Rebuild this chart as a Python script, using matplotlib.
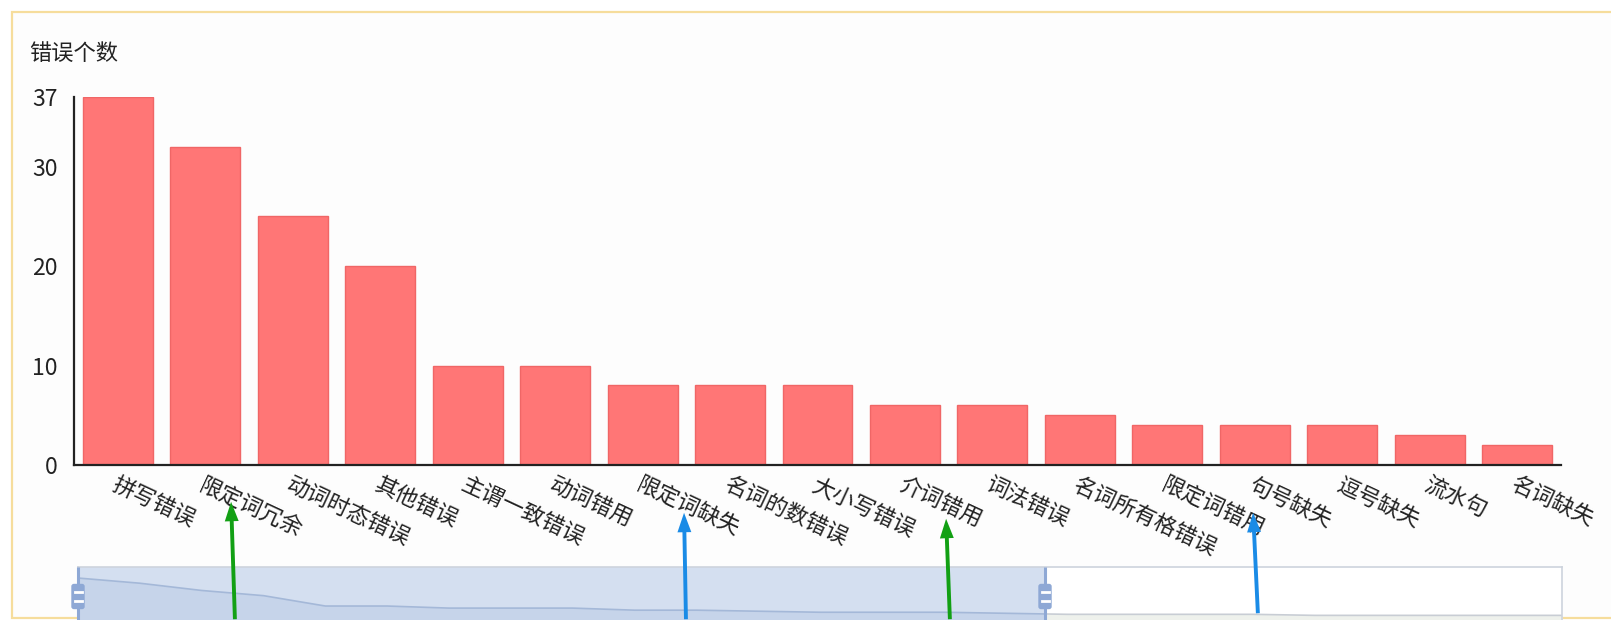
import matplotlib
matplotlib.use('Agg')
import matplotlib.pyplot as plt
from matplotlib.patches import Rectangle, FancyBboxPatch, FancyArrowPatch
import numpy as np

plt.rcParams['font.family'] = ['Noto Sans CJK SC', 'DejaVu Sans']

# data
categories = ['拼写错误', '限定词冗余', '动词时态错误', '其他错误', '主谓一致错误', '动词错用',
              '限定词缺失', '名词的数错误', '大小写错误', '介词错用', '词法错误', '名词所有格错误',
              '限定词错用', '句号缺失', '逗号缺失', '流水句', '名词缺失']
counts = [37, 32, 25, 20, 10, 10, 8, 8, 8, 6, 6, 5, 4, 4, 4, 3, 2]
# categories beyond the zoom window, only visible as the slider's shadow line
hidden_counts = [2, 2, 2, 1, 1, 1, 1, 1]
y_ticks = [0, 10, 20, 30, 37]
y_title = '错误个数'

W, H = 1611, 620
BAR = '#ff7676'
TXT = '#222222'


def px_axes(fig, l, t, r, b, **kw):  # axes placed by pixel box (top-left origin)
    return fig.add_axes([l / W, 1 - b / H, (r - l) / W, (b - t) / H], **kw)


fig = plt.figure(figsize=(W / 100, H / 100), dpi=100)
fig.patch.set_facecolor('white')

# frame of the screenshot
bg = px_axes(fig, 0, 0, W, H, zorder=-10)
bg.set_xlim(0, W)
bg.set_ylim(H, 0)
bg.axis('off')
bg.add_patch(Rectangle((12, 12), 1700, 606, facecolor='#fdfdfd', edgecolor='#f6dd9c', linewidth=1.6))

# main bar chart
ax = px_axes(fig, 74, 97, 1561, 465)
ax.patch.set_alpha(0)
x = np.arange(len(categories))
ax.bar(x, counts, width=0.8, color=BAR, edgecolor='#f06666', linewidth=1.0)
ax.set_xlim(-0.5, len(categories) - 0.5)
ax.set_ylim(0, max(y_ticks))
ax.set_yticks(y_ticks)
ax.set_yticklabels([str(v) for v in y_ticks], fontsize=16.5, color=TXT)
ax.tick_params(axis='y', length=0, pad=12)
ax.set_xticks(x)
ax.set_xticklabels(categories, fontsize=16, color=TXT, rotation=-25, ha='left',
                   rotation_mode='anchor', va='top')
ax.tick_params(axis='x', length=0, pad=6)
for s in ['top', 'right']:
    ax.spines[s].set_visible(False)
for s in ['left', 'bottom']:
    ax.spines[s].set_color('#222222')
    ax.spines[s].set_linewidth(1.6)
fig.text(29 / W, 1 - 53 / H, y_title, fontsize=16, color=TXT, ha='left', va='center')

# dataZoom slider
all_counts = counts + hidden_counts
sl = px_axes(fig, 78, 567, 1562, 620)
n = len(all_counts)
sl.set_xlim(0, n - 1)
k = 1.037  # px per unit in slider
sl.set_ylim(-(620 - 616.4) / k, (616.4 - 567) / k)
sl.set_xticks([])
sl.set_yticks([])
sl.spines['bottom'].set_visible(False)
for s in ['top', 'left', 'right']:
    sl.spines[s].set_color('#cdd3dd')
    sl.spines[s].set_linewidth(1.2)
sel = (1045 - 78) / (1562 - 78)
sl.add_patch(Rectangle((0, 0), sel, 1, transform=sl.transAxes, facecolor='#d4dff0',
                       edgecolor='none', zorder=0))
xs = np.arange(n)
clip_in = Rectangle((0, 0), sel, 1, transform=sl.transAxes, visible=False)
clip_out = Rectangle((sel, 0), 1 - sel, 1, transform=sl.transAxes, visible=False)
sl.add_patch(clip_in)
sl.add_patch(clip_out)
f1 = sl.fill_between(xs, all_counts, -10, color='#c6d4ea', lw=0, zorder=1)
l1, = sl.plot(xs, all_counts, color='#a4b8d8', lw=1.2, zorder=2)
f1.set_clip_path(clip_in)
l1.set_clip_path(clip_in)
f2 = sl.fill_between(xs, all_counts, -10, color='#eef1ec', lw=0, zorder=1)
l2, = sl.plot(xs, all_counts, color='#c8cdd4', lw=1.2, zorder=2)
f2.set_clip_path(clip_out)
l2.set_clip_path(clip_out)

# overlay: slider handles and annotation arrows
ov = px_axes(fig, 0, 0, W, H, zorder=20)
ov.set_xlim(0, W)
ov.set_ylim(H, 0)
ov.axis('off')
ov.patch.set_alpha(0)
for hx in [78, 1045]:
    ov.plot([hx, hx], [567, 622], color='#8ea8d5', lw=2.2, solid_capstyle='butt')
    ov.add_patch(FancyBboxPatch((hx - 5.5, 585), 11, 23, boxstyle='round,pad=0.5,rounding_size=2',
                                facecolor='#8ea8d5', edgecolor='#8ea8d5'))
    for dy in [592, 601]:
        ov.plot([hx - 3.5, hx + 3.5], [dy, dy], color='white', lw=2)

arrows = [((235, 622), (231, 499), '#12a014'),
          ((686, 622), (684, 510), '#1a8be6'),
          ((950, 622), (946, 516), '#12a014'),
          ((1258, 616), (1253, 510), '#1a8be6')]
for tail, tip, c in arrows:
    ov.add_patch(FancyArrowPatch(tail, tip, arrowstyle='simple,head_length=1.4,head_width=1.0,tail_width=0.28',
                                 mutation_scale=10, color=c, lw=0))

plt.savefig('out.png', dpi=100)
